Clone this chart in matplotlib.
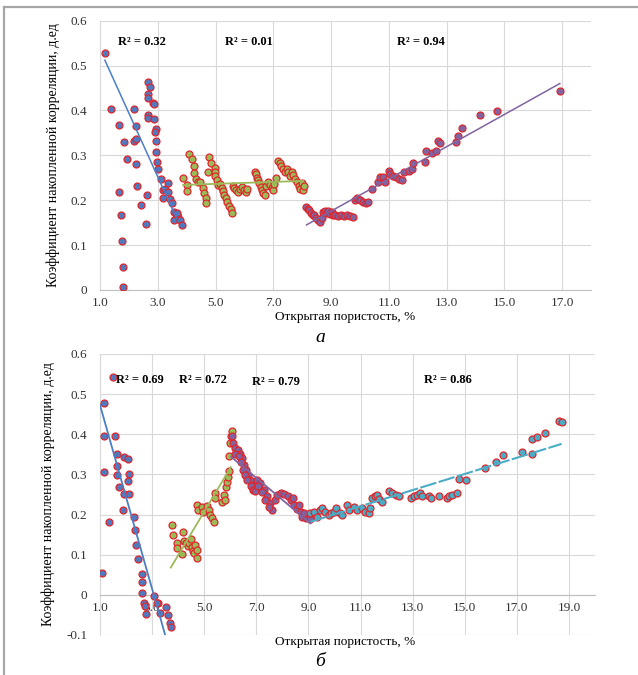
import matplotlib.pyplot as plt
from matplotlib.lines import Line2D

plt.rcParams['font.family'] = ['Liberation Serif', 'DejaVu Serif']

# ---------------- DATA: panel a ----------------
a_blue_x = [1.17, 1.37, 1.66, 1.82, 1.93, 1.66, 1.73, 1.75, 1.79, 1.79, 2.17, 2.23, 2.17, 2.26,
            2.26, 2.27, 2.43, 2.60, 2.64, 2.65, 2.72, 2.65, 2.66, 2.82, 2.86, 2.66, 2.67, 2.88,
            2.93, 2.91, 2.93, 2.94, 2.96, 3.02, 3.12, 3.19, 3.19, 3.24, 3.36, 3.36, 3.42, 3.48,
            3.56, 3.66, 3.70, 3.56, 3.77, 3.85, 3.62, 3.68]
a_blue_y = [0.528, 0.404, 0.367, 0.330, 0.292, 0.218, 0.166, 0.110, 0.052, 0.006, 0.404, 0.365,
            0.332, 0.336, 0.281, 0.232, 0.190, 0.148, 0.212, 0.464, 0.452, 0.437, 0.428, 0.416,
            0.414, 0.390, 0.383, 0.381, 0.358, 0.353, 0.332, 0.308, 0.285, 0.269, 0.247, 0.223,
            0.204, 0.225, 0.239, 0.219, 0.202, 0.193, 0.174, 0.167, 0.162, 0.157, 0.156, 0.144,
            0.170, 0.172]

a_green_x = [3.88, 4.01, 4.03, 4.08, 4.17, 4.25, 4.26, 4.31, 4.38, 4.48, 4.57, 4.61, 4.66, 4.68,
             4.75, 4.78, 4.84, 4.97, 4.98, 4.99, 5.04, 5.09, 5.16, 5.21, 5.26, 5.31, 5.36, 5.41,
             5.46, 5.52, 5.56, 5.60, 5.64, 5.70, 5.78, 5.86, 5.92, 5.98, 6.05, 6.10, 6.36, 6.40,
             6.44, 6.48, 6.52, 6.56, 6.60, 6.66, 6.72, 6.76, 6.82, 6.88, 6.94, 7.00, 7.04, 7.10,
             7.17, 7.22, 7.28, 7.34, 7.40, 7.46, 7.52, 7.58, 7.64, 7.70, 7.76, 7.82, 7.88, 7.94,
             7.98, 8.02, 8.06]
a_green_y = [0.250, 0.235, 0.220, 0.304, 0.291, 0.277, 0.260, 0.247, 0.240, 0.240, 0.228, 0.217,
             0.206, 0.194, 0.262, 0.297, 0.283, 0.271, 0.262, 0.255, 0.246, 0.234, 0.236, 0.228,
             0.220, 0.212, 0.204, 0.196, 0.188, 0.180, 0.172, 0.232, 0.228, 0.222, 0.218, 0.224,
             0.230, 0.222, 0.218, 0.226, 0.263, 0.258, 0.250, 0.244, 0.238, 0.230, 0.222, 0.216,
             0.212, 0.232, 0.240, 0.234, 0.228, 0.222, 0.236, 0.250, 0.288, 0.282, 0.276, 0.270,
             0.262, 0.270, 0.262, 0.254, 0.262, 0.256, 0.248, 0.240, 0.232, 0.226, 0.238, 0.222,
             0.232]

a_purple_x = [8.15, 8.20, 8.24, 8.30, 8.36, 8.42, 8.48, 8.55, 8.62, 8.67, 8.73, 8.79, 8.85, 8.90,
              8.96, 9.02, 9.08, 9.15, 9.25, 9.35, 9.45, 9.55, 9.65, 9.77, 9.82, 9.90, 10.00,
              10.10, 10.20, 10.28, 10.43, 10.62, 10.71, 10.80, 10.86, 11.01, 11.05, 11.15, 11.25,
              11.35, 11.44, 11.52, 11.70, 11.80, 11.84, 12.25, 12.30, 12.51, 12.63, 12.72, 12.77,
              13.31, 13.40, 13.55, 14.15, 14.75, 16.92]
a_purple_y = [0.186, 0.180, 0.178, 0.172, 0.166, 0.168, 0.160, 0.156, 0.152, 0.160, 0.174, 0.176,
              0.172, 0.176, 0.170, 0.174, 0.168, 0.166, 0.164, 0.166, 0.164, 0.166, 0.164, 0.163,
              0.200, 0.204, 0.200, 0.196, 0.194, 0.197, 0.224, 0.240, 0.251, 0.251, 0.240, 0.266,
              0.258, 0.254, 0.252, 0.248, 0.246, 0.262, 0.266, 0.270, 0.283, 0.285, 0.310, 0.306,
              0.310, 0.332, 0.328, 0.330, 0.343, 0.360, 0.391, 0.399, 0.444]

# trend lines (start, end)
a_trend_blue = ([1.17, 3.65], [0.512, 0.160])
a_trend_green = ([3.88, 8.03], [0.234, 0.243])
a_trend_purple = ([8.15, 16.92], [0.145, 0.460])
a_r2 = ["R² = 0.32", "R² = 0.01", "R² = 0.94"]
a_r2_x = [2.44, 6.16, 12.1]

# ---------------- DATA: panel b ----------------
b_blue_x = [1.15, 1.15, 1.58, 1.64, 1.64, 1.17, 1.67, 1.92, 2.08, 2.13, 2.09, 1.74, 1.92, 2.13,
            1.90, 1.35, 2.31, 2.35, 2.37, 2.45, 1.06, 2.60, 2.62, 2.63, 2.70, 2.73, 2.76, 3.08,
            3.22, 3.31, 3.54, 3.60, 3.69, 3.73, 1.49, 3.17]
b_blue_y = [0.478, 0.396, 0.396, 0.351, 0.321, 0.306, 0.298, 0.343, 0.339, 0.300, 0.284, 0.269,
            0.251, 0.250, 0.211, 0.182, 0.195, 0.162, 0.125, 0.089, 0.055, 0.052, 0.031, 0.004,
            -0.021, -0.029, -0.047, -0.004, -0.021, -0.046, -0.031, -0.050, -0.070, -0.080,
            0.543, -0.020]

b_green_x = [3.76, 3.79, 3.95, 3.97, 4.13, 4.20, 4.24, 4.30, 4.36, 4.42, 4.48, 4.52, 4.58, 4.62,
             4.66, 4.72, 4.71, 4.72, 4.78, 4.91, 4.97, 5.10, 5.17, 5.23, 5.30, 5.36, 5.40, 5.42,
             5.68, 5.77, 5.80, 5.85, 5.87, 5.90, 5.96, 5.97, 6.00, 6.04, 6.06]
b_green_y = [0.173, 0.149, 0.129, 0.116, 0.102, 0.157, 0.135, 0.128, 0.122, 0.130, 0.138, 0.118,
             0.110, 0.105, 0.125, 0.091, 0.112, 0.224, 0.211, 0.220, 0.207, 0.221, 0.211, 0.199,
             0.191, 0.182, 0.253, 0.240, 0.232, 0.249, 0.236, 0.269, 0.282, 0.293, 0.309, 0.347,
             0.379, 0.396, 0.409]

b_purple_x = [6.05, 6.10, 6.19, 6.28, 6.38, 6.45, 6.51, 6.62, 6.67, 6.74, 6.90, 7.03, 7.15, 7.28,
              7.41, 7.51, 7.62, 6.20, 6.32, 6.42, 6.50, 6.58, 6.66, 6.78, 6.86, 6.96, 7.05, 7.20,
              7.35, 7.48, 7.70, 7.78, 7.95, 8.05, 8.20, 8.35, 8.45, 8.58, 8.70, 8.76, 8.90, 9.00,
              9.08, 8.82, 8.62, 8.40]
b_purple_y = [0.395, 0.377, 0.365, 0.361, 0.351, 0.340, 0.323, 0.311, 0.299, 0.286, 0.274, 0.286,
              0.278, 0.261, 0.245, 0.228, 0.211, 0.350, 0.345, 0.330, 0.312, 0.298, 0.285, 0.272,
              0.262, 0.258, 0.270, 0.255, 0.236, 0.220, 0.236, 0.249, 0.253, 0.250, 0.245, 0.235,
              0.224, 0.215, 0.207, 0.195, 0.192, 0.195, 0.190, 0.205, 0.225, 0.240]

b_cyan_x = [9.08, 9.20, 9.33, 9.46, 9.53, 9.65, 9.78, 9.85, 9.97, 10.04, 10.23, 10.29, 10.48,
            10.55, 10.74, 10.87, 11.06, 11.19, 11.32, 11.38, 11.45, 11.54, 11.64, 11.72, 11.83,
            12.09, 12.22, 12.35, 12.47, 12.92, 13.05, 13.18, 13.30, 13.37, 13.63, 13.69, 14.01,
            14.31, 14.40, 14.52, 14.69, 14.78, 15.04, 15.78, 16.19, 16.45, 17.19, 17.60, 17.60,
            17.77, 18.09, 18.63, 18.72]
b_cyan_y = [0.203, 0.207, 0.195, 0.211, 0.216, 0.207, 0.199, 0.203, 0.207, 0.216, 0.203, 0.199,
            0.224, 0.211, 0.220, 0.211, 0.216, 0.207, 0.203, 0.216, 0.241, 0.245, 0.249, 0.238,
            0.232, 0.259, 0.253, 0.249, 0.245, 0.241, 0.245, 0.249, 0.253, 0.245, 0.246, 0.241,
            0.245, 0.241, 0.245, 0.249, 0.253, 0.288, 0.286, 0.317, 0.330, 0.348, 0.357, 0.351,
            0.387, 0.394, 0.404, 0.434, 0.430]

b_trend_blue = ([1.0, 3.55], [0.473, -0.111])
b_trend_green = ([3.72, 6.02], [0.068, 0.318])
b_trend_purple = ([6.03, 9.08], [0.344, 0.178])
b_trend_cyan = ([9.08, 18.72], [0.182, 0.376])
b_r2 = ["R² = 0.69", "R² = 0.72", "R² = 0.79", "R² = 0.86"]
b_r2_x = [2.54, 4.97, 7.74, 14.35]
b_r2_y = [0.535, 0.535, 0.529, 0.535]

# ---------------- STYLE ----------------
BLUE = '#5079BE'
GREEN = '#9BBB59'
PURPLE = '#8064A2'
CYAN = '#4BACC6'
EDGE = '#E0262B'
GRID = '#D9D9D9'
ylabel = "Коэффициент накопленной корреляции, д.ед"
xlabel = "Открытая пористость, %"

fig = plt.figure(figsize=(6.38, 6.75), dpi=100)

# gray frame
fig.add_artist(Line2D([4 / 638, 1], [1 - 7 / 675, 1 - 7 / 675], color='#A6A6A6', lw=1.6))
fig.add_artist(Line2D([4 / 638, 4 / 638], [0, 1 - 7 / 675], color='#A6A6A6', lw=1.6))


def pts(ax, x, y, c):
    ax.scatter(x, y, s=25, c=c, edgecolors=EDGE, linewidths=0.9, zorder=3)


def style(ax):
    ax.grid(True, color=GRID, lw=0.8)
    ax.set_axisbelow(True)
    for s in ['top', 'right']:
        ax.spines[s].set_visible(False)
    ax.spines['left'].set_color(GRID)
    ax.spines['bottom'].set_color('#BFBFBF')
    ax.tick_params(length=0, labelsize=9.5, labelcolor='#333333')
    ax.tick_params(axis='y', pad=9)


# ---------------- PANEL a ----------------
ax1 = fig.add_axes([0.1567, 0.5704, 0.7696, 0.3989])
style(ax1)
ax1.set_xlim(1, 18)
ax1.set_ylim(0, 0.6)
ax1.set_xticks([1, 3, 5, 7, 9, 11, 13, 15, 17])
ax1.set_xticklabels([f"{v:.1f}" for v in [1, 3, 5, 7, 9, 11, 13, 15, 17]])
ax1.set_yticks([0, 0.1, 0.2, 0.3, 0.4, 0.5, 0.6])
ax1.set_yticklabels(["0", "0.1", "0.2", "0.3", "0.4", "0.5", "0.6"])
ax1.tick_params(axis='x', pad=5)

pts(ax1, a_blue_x, a_blue_y, BLUE)
pts(ax1, a_green_x, a_green_y, GREEN)
pts(ax1, a_purple_x, a_purple_y, PURPLE)
ax1.plot(*a_trend_blue, color='#4A7EC8', lw=1.1, zorder=4)
ax1.plot(*a_trend_green, color=GREEN, lw=1.3, zorder=4)
ax1.plot(*a_trend_purple, color=PURPLE, lw=1.1, zorder=4)
for t, x in zip(a_r2, a_r2_x):
    ax1.text(x, 0.553, t, ha='center', va='center', fontsize=9, fontweight='bold')

ax1.set_ylabel(ylabel, fontsize=10, labelpad=8)
fig.text(345 / 638, 1 - 317 / 675, xlabel, fontsize=9.5, ha='center', va='center')
fig.text(320 / 638, 1 - 337 / 675, "а", fontsize=14, style='italic', ha='center', va='center')

# ---------------- PANEL b ----------------
ax2 = fig.add_axes([0.1567, 0.0593, 0.7759, 0.4163])
style(ax2)
ax2.set_xlim(1, 20)
ax2.set_ylim(-0.1, 0.6)
ax2.spines['bottom'].set_position(('data', 0))
ax2.set_xticks([1, 3, 5, 7, 9, 11, 13, 15, 17, 19])
ax2.set_xticklabels([f"{v:.1f}" for v in [1, 3, 5, 7, 9, 11, 13, 15, 17, 19]])
ax2.set_yticks([-0.1, 0, 0.1, 0.2, 0.3, 0.4, 0.5, 0.6])
ax2.set_yticklabels(["-0.1", "0", "0.1", "0.2", "0.3", "0.4", "0.5", "0.6"])
ax2.tick_params(axis='x', pad=5)

pts(ax2, b_blue_x, b_blue_y, BLUE)
pts(ax2, b_green_x, b_green_y, GREEN)
pts(ax2, b_purple_x, b_purple_y, PURPLE)
pts(ax2, b_cyan_x, b_cyan_y, CYAN)
ax2.plot(*b_trend_blue, color='#4A7EC8', lw=1.3, zorder=4)
ax2.plot(*b_trend_green, color=GREEN, lw=1.3, zorder=4)
ax2.plot(*b_trend_purple, color=PURPLE, lw=1.3, zorder=4)
ax2.plot(*b_trend_cyan, color=CYAN, lw=1.5, zorder=4, dashes=(8, 1.2))
for t, x, y in zip(b_r2, b_r2_x, b_r2_y):
    ax2.text(x, y, t, ha='center', va='center', fontsize=9, fontweight='bold')

ax2.set_ylabel(ylabel, fontsize=10, labelpad=8)
fig.text(345 / 638, 1 - 642 / 675, xlabel, fontsize=9.5, ha='center', va='center')
fig.text(320 / 638, 1 - 662 / 675, "б", fontsize=14, style='italic', ha='center', va='center')

plt.savefig("out.png", dpi=100)
